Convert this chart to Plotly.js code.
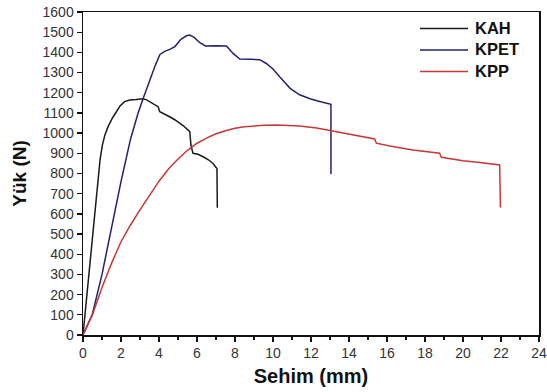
<!DOCTYPE html>
<html>
<head>
<meta charset="utf-8">
<script src="https://cdn.plot.ly/plotly-3.0.1.min.js"></script>
<style>html,body{margin:0;padding:0;background:#fff;}#chart{width:547px;height:392px;}</style>
</head>
<body>
<div id="chart"></div>
<script>
const seriesNames = ["KAH", "KPET", "KPP"];

const kahX = [0, 0.4, 0.79, 0.9, 1.02, 1.15, 1.32, 1.55, 1.76, 1.95, 2.19, 2.46, 2.8, 3.16, 3.35, 3.51, 3.68, 3.95, 4.04, 4.3, 4.56, 4.85, 5.09, 5.3, 5.62, 5.68, 5.79, 6.05, 6.32, 6.6, 6.84, 7.05, 7.07];
const kahY = [0, 390, 768, 870, 941, 990, 1032, 1075, 1106, 1135, 1156, 1164, 1166, 1170, 1165, 1156, 1148, 1131, 1106, 1095, 1081, 1065, 1048, 1035, 1007, 941, 900, 895, 883, 868, 850, 825, 630];

const kpetX = [0, 0.5, 1.0, 1.5, 2.0, 2.5, 2.9, 3.2, 3.5, 3.8, 4.05, 4.3, 4.6, 4.85, 5.15, 5.45, 5.62, 5.85, 6.15, 6.45, 7.0, 7.55, 7.9, 8.25, 8.8, 9.3, 9.65, 10.0, 10.35, 10.9, 11.4, 11.95, 12.45, 13.05, 13.05];
const kpetY = [0, 105, 300, 530, 760, 970, 1100, 1180, 1260, 1335, 1390, 1405, 1416, 1430, 1465, 1482, 1486, 1474, 1448, 1432, 1433, 1432, 1395, 1367, 1366, 1364, 1345, 1318, 1279, 1222, 1190, 1170, 1157, 1143, 797];

const kppX = [0, 0.5, 1.0, 1.5, 2.0, 2.5, 3.0, 3.5, 4.0, 4.5, 5.0, 5.5, 6.0, 6.5, 7.0, 7.5, 8.0, 8.5, 9.0, 9.5, 10.2, 10.8, 11.4, 12.3, 13.1, 14.2, 15.35, 15.44, 16.14, 17.37, 18.77, 18.86, 20.0, 20.88, 21.93, 21.97];
const kppY = [0, 100, 235, 355, 462, 545, 620, 692, 762, 822, 872, 915, 950, 975, 997, 1012, 1024, 1031, 1036, 1039, 1040, 1039, 1035, 1025, 1010, 990, 971, 950, 936, 916, 900, 880, 863, 855, 842, 632];

const colors = ["#1a1a1a", "#22226e", "#c83737"];

const traces = [
  {x: kahX, y: kahY, name: seriesNames[0]},
  {x: kpetX, y: kpetY, name: seriesNames[1]},
  {x: kppX, y: kppY, name: seriesNames[2]}
].map((t, i) => Object.assign(t, {type: "scatter", mode: "lines",
  line: {color: colors[i], width: 1.5}, showlegend: false}));

const font = "'Liberation Sans', Arial, sans-serif";

// legend drawn in paper coordinates
const legFont = 16.5;
const legX0 = 0.739, legX1 = 0.8443, legTextX = 0.8553;
const legMidY = 0.8824;
const legStep = legFont * 1.3 / 323;
const shapes = seriesNames.map((n, i) => ({
  type: "line", xref: "paper", yref: "paper", x0: legX0, x1: legX1,
  y0: legMidY + (1 - i) * legStep, y1: legMidY + (1 - i) * legStep,
  line: {color: colors[i], width: 1.5}
}));
const annotations = [{
  xref: "paper", yref: "paper", x: legTextX, y: legMidY, xanchor: "left", yanchor: "middle", align: "left",
  text: seriesNames.map(n => "<b>" + n + "</b>").join("<br>"), showarrow: false,
  font: {family: font, size: legFont, color: "#111"}
}];

const layout = {
  width: 547, height: 392,
  margin: {l: 83, r: 8, t: 12, b: 57},
  paper_bgcolor: "#fff", plot_bgcolor: "#fff",
  font: {family: font, color: "#222", size: 14},
  showlegend: false,
  shapes: shapes,
  annotations: annotations,
  xaxis: {
    range: [0, 24], dtick: 2, tick0: 0, ticks: "outside", ticklen: 5, tickwidth: 1.3, tickcolor: "#111",
    showline: true, linecolor: "#111", linewidth: 1.5, mirror: true, showgrid: false, zeroline: false,
    minor: {dtick: 1, ticks: "outside", ticklen: 3, tickcolor: "#111", showgrid: false},
    tickfont: {size: 14, color: "#333"},
    title: {text: "<b>Sehim (mm)</b>", font: {size: 20, color: "#111"}, standoff: 8}
  },
  yaxis: {
    range: [0, 1600], dtick: 100, tick0: 0, ticks: "outside", ticklen: 5, tickwidth: 1.3, tickcolor: "#111",
    showline: true, linecolor: "#111", linewidth: 1.5, mirror: true, showgrid: false, zeroline: false,
    tickfont: {size: 14, color: "#333"},
    title: {text: "<b>Yük (N)</b>", font: {size: 19, color: "#111"}, standoff: 11}
  }
};

Plotly.newPlot("chart", traces, layout, {staticPlot: true, displayModeBar: false});
</script>
</body>
</html>
